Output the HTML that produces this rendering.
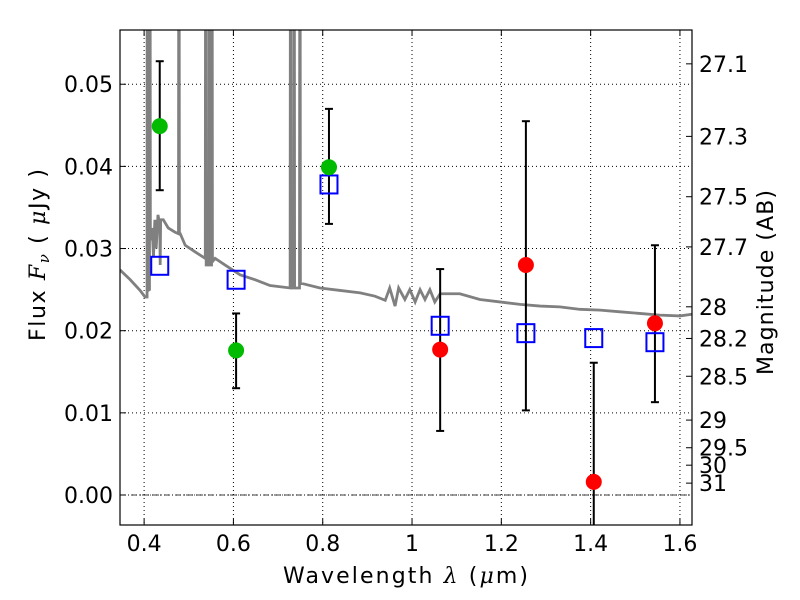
<!DOCTYPE html>
<html><head><meta charset="utf-8">
<style>
body{margin:0;background:#fff;}
svg{display:block;font-family:"DejaVu Sans","Liberation Sans",sans-serif;}
</style></head>
<body>
<svg id="chart" width="800" height="600"></svg>
<script>
// ---- data ----
const specWl = [0.346,0.369,0.391,0.402,0.4066,0.407,0.408,0.409,0.412,0.413,0.414,0.418,0.421,0.424,0.427,0.431,0.435,0.436,0.437,0.443,0.454,0.469,0.477,0.478,0.479,0.481,0.492,0.514,0.537,0.538,0.539,0.545,0.546,0.547,0.551,0.552,0.553,0.559,0.581,0.615,0.649,0.682,0.727,0.728,0.729,0.735,0.736,0.737,0.748,0.749,0.75,0.794,0.839,0.884,0.917,0.940,0.950,0.962,0.970,0.984,0.995,1.007,1.018,1.029,1.040,1.051,1.063,1.107,1.152,1.197,1.242,1.287,1.331,1.376,1.421,1.466,1.510,1.555,1.600,1.627];
const specFlux = [0.0274,0.0262,0.0249,0.0241,0.0241,0.1,0.025,0.0249,0.025,0.1,0.031,0.0325,0.0290,0.0335,0.0300,0.0341,0.0330,0.0280,0.0335,0.0335,0.0325,0.0320,0.0318,0.1,0.0318,0.0318,0.0304,0.0296,0.0288,0.1,0.028,0.028,0.1,0.028,0.028,0.1,0.0284,0.0288,0.0280,0.0268,0.0262,0.0255,0.0252,0.1,0.0252,0.0252,0.1,0.0252,0.0252,0.1,0.0258,0.0252,0.0249,0.0246,0.0242,0.0237,0.0252,0.0230,0.0252,0.0238,0.0250,0.0235,0.0250,0.0238,0.0250,0.0235,0.0245,0.0245,0.0238,0.0235,0.0232,0.0230,0.0229,0.0226,0.0225,0.0223,0.0221,0.0219,0.0218,0.0220];
const obsWl   = [0.435,0.606,0.814,1.063,1.255,1.407,1.544];
const obsFlux = [0.0449,0.0176,0.0399,0.0177,0.0280,0.0016,0.0209];
const obsHi   = [0.0528,0.0221,0.0470,0.0275,0.0455,0.0161,0.0304];
const obsLo   = [0.0371,0.0130,0.0330,0.0078,0.0103,-0.010,0.0113];
const obsColor= ['#00bb00','#00bb00','#00bb00','#ff0000','#ff0000','#ff0000','#ff0000'];
const modelFlux = [0.0279,0.0262,0.0378,0.0206,0.0197,0.0191,0.0186];
const xTicks = [0.4,0.6,0.8,1.0,1.2,1.4,1.6];
const xTickLabels = ['0.4','0.6','0.8','1','1.2','1.4','1.6'];
const yTicks = [0.00,0.01,0.02,0.03,0.04,0.05];
const yTickLabels = ['0.00','0.01','0.02','0.03','0.04','0.05'];
const magTicks = [27.1,27.3,27.5,27.7,28,28.2,28.5,29,29.5,30,31];
const magTickLabels = ['27.1','27.3','27.5','27.7','28','28.2','28.5','29','29.5','30','31'];

// ---- axes ----
const L=120,R=692,T=30,B=525;
const X0=0.346,X1=1.627,Y0=-0.00365,Y1=0.0566;
const sx=v=>L+(v-X0)/(X1-X0)*(R-L);
const sy=v=>B-(v-Y0)/(Y1-Y0)*(B-T);
const NS='http://www.w3.org/2000/svg';
const svg=document.getElementById('chart');
function mk(tag,attrs,parent){const e=document.createElementNS(NS,tag);for(const k in attrs)e.setAttribute(k,attrs[k]);(parent||svg).appendChild(e);return e;}

const clip=mk('clipPath',{id:'pc'});mk('rect',{x:L,y:T,width:R-L,height:B-T},clip);

const grid=mk('g',{});


xTicks.forEach(v=>{mk('line',{x1:sx(v),x2:sx(v),y1:T,y2:B,stroke:'#000','stroke-width':1,'stroke-dasharray':'1,3'},grid);});
yTicks.forEach(v=>{mk('line',{x1:L,x2:R,y1:sy(v),y2:sy(v),stroke:'#000','stroke-width':1,'stroke-dasharray':'1,3'},grid);});
const zl=mk('line',{x1:L,x2:R,y1:sy(0),y2:sy(0),stroke:'#000','stroke-width':0.8,'stroke-dasharray':'6,2,1,2'});



const sp=mk('polyline',{points:specWl.map((w,i)=>sx(w)+','+sy(specFlux[i])).join(' '),fill:'none',stroke:'#808080','stroke-width':2.8,'clip-path':'url(#pc)'});



obsWl.forEach((w,i)=>{
  const g=mk('g',{'clip-path':'url(#pc)'});
  
  
  const x=sx(w);
  mk('line',{x1:x,x2:x,y1:sy(obsHi[i]),y2:sy(obsLo[i]),stroke:'#000','stroke-width':2},g);
  mk('line',{x1:x-4,x2:x+4,y1:sy(obsHi[i]),y2:sy(obsHi[i]),stroke:'#000','stroke-width':2},g);
  mk('line',{x1:x-4,x2:x+4,y1:sy(obsLo[i]),y2:sy(obsLo[i]),stroke:'#000','stroke-width':2},g);
});
obsWl.forEach((w,i)=>{
  const r=mk('rect',{x:sx(w)-8.5,y:sy(modelFlux[i])-9,width:17,height:18,fill:'none',stroke:'#0000ff','stroke-width':2});
  
  
});
obsWl.forEach((w,i)=>{
  const c=mk('circle',{cx:sx(w),cy:sy(obsFlux[i]),r:8,fill:obsColor[i]});
  
  
});

const fr=mk('rect',{x:L,y:T,width:R-L,height:B-T,fill:'none',stroke:'#000','stroke-width':1.2});



xTicks.forEach((v,i)=>{
  const x=sx(v);
  mk('line',{x1:x,x2:x,y1:B,y2:B-6,stroke:'#000'});
  mk('line',{x1:x,x2:x,y1:T,y2:T+6,stroke:'#000'});
  const t=mk('text',{x:x,y:B+26,'text-anchor':'middle','font-size':22});
  t.textContent=xTickLabels[i];
  
  
});
yTicks.forEach((v,i)=>{
  const y=sy(v);
  mk('line',{x1:L,x2:L+6,y1:y,y2:y,stroke:'#000'});
  const t=mk('text',{x:L-7,y:y+8,'text-anchor':'end','font-size':22});
  t.textContent=yTickLabels[i];
  
  
});
const magY=m=>sy(Math.pow(10,(23.9-m)/2.5));
magTicks.forEach((m,i)=>{
  const y=magY(m);
  mk('line',{x1:R-6,x2:R,y1:y,y2:y,stroke:'#000'});
  const t=mk('text',{x:R+7,y:y+8,'text-anchor':'start','font-size':22});
  t.textContent=magTickLabels[i];
  
  
});
</script>
<svg width="800" height="600" style="position:absolute;left:0;top:0">
<text x="283" y="583" textLength="245" lengthAdjust="spacing" font-size="22" font-family="DejaVu Sans, Liberation Sans, sans-serif">Wavelength  <tspan font-style="italic" font-family="DejaVu Serif, Liberation Serif, serif">λ</tspan> (<tspan font-style="italic" font-family="DejaVu Serif, Liberation Serif, serif">μ</tspan>m)</text>
<text transform="translate(45,341) rotate(-90)" textLength="172" lengthAdjust="spacing" font-size="22" font-family="DejaVu Sans, Liberation Sans, sans-serif">Flux  <tspan font-style="italic" font-family="DejaVu Serif, Liberation Serif, serif">F</tspan><tspan font-style="italic" font-size="15" dy="4" font-family="DejaVu Serif, Liberation Serif, serif">ν</tspan><tspan dy="-4">  ( </tspan><tspan font-style="italic" font-family="DejaVu Serif, Liberation Serif, serif">μ</tspan>Jy )</text>
<text transform="translate(773,375) rotate(-90)" textLength="185" lengthAdjust="spacing" font-size="22" font-family="DejaVu Sans, Liberation Sans, sans-serif">Magnitude (AB)</text>
</svg>
</body></html>
